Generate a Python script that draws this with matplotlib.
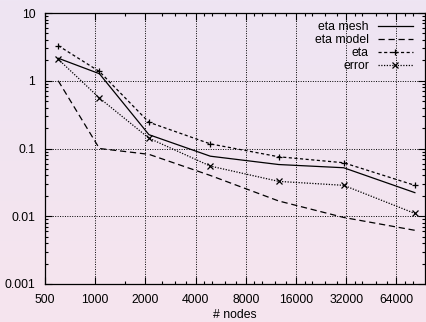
import numpy as np
import matplotlib
matplotlib.use("Agg")
import matplotlib.pyplot as plt
from matplotlib.colors import LinearSegmentedColormap
from matplotlib.ticker import FixedLocator, NullFormatter

plt.rcParams['font.family'] = ['Liberation Sans', 'DejaVu Sans']

nodes = [600, 1060, 2100, 4900, 12600, 30900, 82600]
eta_mesh = [2.15, 1.27, 0.16, 0.077, 0.058, 0.052, 0.0223]
eta_model = [1.0, 0.1, 0.082, 0.040, 0.0168, 0.0096, 0.0062]
eta = [3.3, 1.37, 0.244, 0.117, 0.0755, 0.0616, 0.0286]
error = [2.08, 0.557, 0.142, 0.055, 0.0327, 0.0286, 0.011]

x_ticks = [500, 1000, 2000, 4000, 8000, 16000, 32000, 64000]
x_minor = [1500, 2500, 3000, 3500, 4500, 5000, 6000, 7000, 9000, 10000,
           12000, 14000, 18000, 20000, 24000, 28000, 36000, 40000, 48000,
           56000, 72000, 80000]
y_ticks = [0.001, 0.01, 0.1, 1, 10]
y_labels = ["0.001", "0.01", "0.1", "1", "10"]

TOP_BG = '#eee5f3'
BOTTOM_BG = '#f6e4ee'
FS = 8.8

fig = plt.figure(figsize=(4.27, 3.22), dpi=100)

# vertical gradient behind everything
bg = fig.add_axes([0, 0, 1, 1], zorder=-10)
cmap = LinearSegmentedColormap.from_list('bg', [TOP_BG, BOTTOM_BG])
bg.imshow(np.linspace(0, 1, 256).reshape(-1, 1), aspect='auto', cmap=cmap,
          extent=[0, 1, 0, 1])
bg.axis('off')

ax = fig.add_axes([45 / 427, 1 - 284 / 322, 380 / 427, 271 / 322])
ax.set_facecolor('none')
ax.set_xscale('log', base=2)
ax.set_yscale('log')
ax.set_xlim(500, 95000)
ax.set_ylim(0.001, 10)

lw = 0.9
ax.plot(nodes, eta_mesh, color='black', lw=lw, ls='-', label='eta mesh')
ax.plot(nodes, eta_model, color='black', lw=lw, ls=(0, (5, 3)), label='eta model')
ax.plot(nodes, eta, color='black', lw=lw, ls=(0, (2.5, 2)), marker='+',
        ms=5, mew=0.9, label='eta')
ax.plot(nodes, error, color='black', lw=lw, ls=(0, (1, 1.2)), marker='x',
        ms=4.3, mew=0.9, label='error')

ax.xaxis.set_major_locator(FixedLocator(x_ticks))
ax.set_xticklabels([str(v) for v in x_ticks])
ax.xaxis.set_minor_locator(FixedLocator(x_minor))
ax.xaxis.set_minor_formatter(NullFormatter())
ax.set_yticks(y_ticks)
ax.set_yticklabels(y_labels)
ax.yaxis.set_minor_formatter(NullFormatter())

ax.tick_params(which='both', direction='in', top=True, right=True,
               labelsize=FS, colors='black', width=0.8)
ax.tick_params(which='major', length=5)
ax.tick_params(axis='y', which='major', pad=7)
ax.tick_params(axis='x', which='major', pad=7)
ax.tick_params(which='minor', length=2.5)
ax.grid(True, which='major', color='black', ls=(0, (1, 1.5)), lw=0.7)
for s in ax.spines.values():
    s.set_linewidth(0.9)

ax.set_xlabel('# nodes', fontsize=FS, labelpad=2)

leg = ax.legend(loc='upper right', frameon=False, markerfirst=False,
                fontsize=FS, handlelength=2.9, numpoints=1,
                labelspacing=0.08, handletextpad=0.7,
                borderpad=0, borderaxespad=0,
                bbox_to_anchor=(368 / 380, 1 - 8 / 271))

fig.savefig('out.png', dpi=100)
